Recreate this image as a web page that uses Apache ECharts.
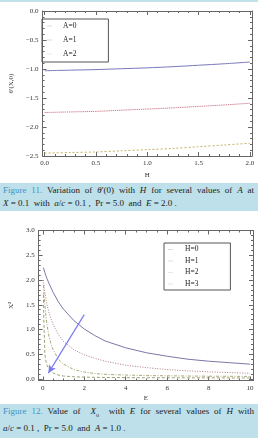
<!DOCTYPE html>
<html>
<head>
<meta charset="utf-8">
<script src="https://cdn.jsdelivr.net/npm/echarts@6.0.0/dist/echarts.min.js"></script>
<style>
  body { margin: 0; width: 258px; height: 438px; overflow: hidden; background: #fff; position: relative;
         font-family: "Liberation Serif", "DejaVu Serif", serif; }
  #main { position: absolute; left: 0; top: 0; width: 258px; height: 438px; }
  .strip { position: absolute; left: 0; top: 0; width: 258px; height: 2px; background: #c3e1e8; }
  .cap { position: absolute; left: 0; width: 258px; background: #bde0ea; color: #222;
         font-size: 9px; box-sizing: border-box; padding: 0 4px 0 3px; }
  .cap .l { position: absolute; left: 3px; right: 4px; white-space: nowrap; }
  .cap .j { text-align: justify; text-align-last: justify; white-space: normal; }
  .cap b { color: #3f93c6; font-weight: normal; }
  .cap sub { font-size: 6px; }
</style>
</head>
<body>
<div id="main"></div>
<div class="strip"></div>
<div class="cap" style="top:183px;height:28px;">
  <div class="l j" style="top:2px;"><b>Figure 11.</b> Variation of <i>θ</i>′(0) with <i>H</i> for several values of <i>A</i> at</div>
  <div class="l" style="top:15px;"><i>X</i> = 0.1&nbsp; with&nbsp; <i>a</i>/<i>c</i> = 0.1 ,&nbsp; Pr = 5.0&nbsp; and&nbsp; <i>E</i> = 2.0 .</div>
</div>
<div class="cap" style="top:404px;height:34px;">
  <div class="l j" style="top:2px;"><b>Figure 12.</b> Value of&nbsp; <i>X</i><sub>o</sub>&nbsp; with <i>E</i> for several values of <i>H</i> with</div>
  <div class="l" style="top:19px;"><i>a</i>/<i>c</i> = 0.1 ,&nbsp; Pr = 5.0&nbsp; and&nbsp; <i>A</i> = 1.0 .</div>
</div>
<script>
// figure 11: theta'(0) against H
var hVals = [0, 0.25, 0.5, 0.75, 1, 1.25, 1.5, 1.75, 2];
var thetaA0 = [-1.03, -1.02, -1.01, -0.995, -0.98, -0.96, -0.935, -0.91, -0.88];
var thetaA1 = [-1.75, -1.74, -1.73, -1.71, -1.69, -1.67, -1.645, -1.62, -1.59];
var thetaA2 = [-2.45, -2.44, -2.43, -2.41, -2.39, -2.37, -2.34, -2.31, -2.28];
var hTicks = [0, 0.5, 1, 1.5, 2];
var thetaTicks = [-2.5, -2, -1.5, -1, -0.5, 0];

// figure 12: X^2 against E
var eVals = [0.03, 0.05, 0.1, 0.15, 0.2, 0.3, 0.4, 0.5, 0.75, 1, 1.5, 2, 2.5, 3, 4, 5, 6, 7, 8, 9, 10];
var xH0 = [2.25, 2.22, 2.15, 2.09, 2.03, 1.93, 1.84, 1.75, 1.56, 1.41, 1.18, 1.01, 0.88, 0.77, 0.63, 0.53, 0.46, 0.40, 0.36, 0.33, 0.30];
var xH1 = [2.0, 1.92, 1.75, 1.62, 1.51, 1.34, 1.21, 1.10, 0.90, 0.76, 0.59, 0.49, 0.42, 0.36, 0.28, 0.23, 0.19, 0.165, 0.145, 0.13, 0.115];
var xH2 = [1.9, 1.75, 1.5, 1.28, 1.1, 0.86, 0.70, 0.59, 0.40, 0.30, 0.19, 0.14, 0.11, 0.095, 0.08, 0.07, 0.065, 0.06, 0.057, 0.055, 0.053];
var xH3 = [1.7, 1.2, 0.5, 0.36, 0.28, 0.2, 0.15, 0.12, 0.08, 0.06, 0.045, 0.038, 0.034, 0.031, 0.028, 0.026, 0.025, 0.024, 0.023, 0.022, 0.021];
var eTicks = [0, 2, 4, 6, 8, 10];
var xTicks = [0, 0.5, 1, 1.5, 2, 2.5, 3];
var arrowFrom = [2.0, 1.3];
var arrowTo = [0.27, 0.12];

var serif = '"Liberation Serif", "DejaVu Serif", serif';
var frameColor = '#666';
// thin horizontal stroke centred in the legend item box
var lineIcon = 'path://M0,0h0.01v0.01h-0.01z M0,4.5h10v1h-10z M0,9.99h0.01v0.01h-0.01z';

function pairs(xs, ys) {
    return xs.map(function (x, i) { return [x, ys[i]]; });
}

function minorOf(ticks, n) {
    var out = [];
    for (var i = 0; i < ticks.length - 1; i++) {
        var s = (ticks[i + 1] - ticks[i]) / n;
        for (var k = 1; k < n; k++) out.push(+(ticks[i] + s * k).toFixed(4));
    }
    return out;
}

function fmt1(v) {
    return v.toFixed(1).replace('-', '\u2212');
}

// major + minor tick axes for one side of a frame
function sideAxes(grid, pos, min, max, ticks, minorN, labels, extra) {
    var major = {
        type: 'value', gridIndex: grid, position: pos, min: min, max: max,
        axisLine: { show: true, onZero: false, lineStyle: { color: frameColor, width: 1 } },
        axisTick: { show: true, inside: true, length: 4, customValues: ticks, lineStyle: { color: frameColor } },
        axisLabel: { show: !!labels, customValues: ticks, formatter: labels || undefined,
                     fontFamily: serif, fontSize: 7, color: '#333', margin: 4 },
        splitLine: { show: false }
    };
    if (extra) for (var k in extra) major[k] = extra[k];
    var minor = {
        type: 'value', gridIndex: grid, position: pos, min: min, max: max,
        axisLine: { show: false, onZero: false },
        axisTick: { show: true, inside: true, length: 2, customValues: minorOf(ticks, minorN), lineStyle: { color: frameColor } },
        axisLabel: { show: false },
        splitLine: { show: false }
    };
    return [major, minor];
}

var nameStyle = { fontFamily: serif, fontSize: 7, color: '#333' };

var xAxes = [].concat(
    sideAxes(0, 'bottom', -0.02, 2.02, hTicks, 5, fmt1,
        { name: 'H', nameLocation: 'middle', nameGap: 16, nameTextStyle: nameStyle }),
    sideAxes(0, 'top', -0.02, 2.02, hTicks, 5, null),
    sideAxes(1, 'bottom', -0.2, 10.14, eTicks, 4, function (v) { return String(v); },
        { name: 'E', nameLocation: 'middle', nameGap: 14, nameTextStyle: nameStyle }),
    sideAxes(1, 'top', -0.2, 10.14, eTicks, 4, null)
);
var yAxes = [].concat(
    sideAxes(0, 'left', -2.5, 0, thetaTicks, 5, fmt1,
        { name: 'θ′(X,0)', nameLocation: 'middle', nameGap: 18, nameRotate: 90, nameTextStyle: nameStyle }),
    sideAxes(0, 'right', -2.5, 0, thetaTicks, 5, null),
    sideAxes(1, 'left', -0.03, 3.0, xTicks, 5, fmt1,
        { name: 'X²', nameLocation: 'middle', nameGap: 15, nameRotate: 90, nameTextStyle: nameStyle }),
    sideAxes(1, 'right', -0.03, 3.0, xTicks, 5, null)
);

function curve(name, xi, xs, ys, color, type, smooth) {
    return {
        name: name, type: 'line', xAxisIndex: xi, yAxisIndex: xi,
        data: pairs(xs, ys), showSymbol: false, symbol: 'none',
        smooth: smooth,
        lineStyle: { color: color, width: 1, type: type },
        itemStyle: { color: color }
    };
}

var legendBase = {
    orient: 'vertical', borderColor: '#555', borderWidth: 1, borderRadius: 0,
    itemWidth: 5, selectedMode: false, icon: lineIcon,
    itemStyle: { opacity: 0.55 },
    textStyle: { fontFamily: serif, fontSize: 7.5, color: '#222', padding: [0, 0, 0, 6] }
};

var myChart = echarts.init(document.getElementById('main'), null, { renderer: 'canvas' });

myChart.setOption({
    animation: false,
    backgroundColor: '#fff',
    grid: [
        { left: 30, top: 11, width: 222, height: 145 },
        { left: 26, top: 230.5, width: 227, height: 150 }
    ],
    legend: [
        Object.assign({}, legendBase, {
            data: ['A=0', 'A=1', 'A=2'], left: 42, top: 19,
            padding: [3, 32, 4, 5], itemGap: 6, itemHeight: 8
        }),
        Object.assign({}, legendBase, {
            data: ['H=0', 'H=1', 'H=2', 'H=3'], left: 164, top: 243,
            padding: [2.5, 32, 2, 4], itemGap: 3.5, itemHeight: 7,
            textStyle: { fontFamily: serif, fontSize: 7.5, color: '#222', padding: [0, 0, 0, 7] }
        })
    ],
    xAxis: xAxes,
    yAxis: yAxes,
    series: [
        curve('A=0', 0, hVals, thetaA0, '#7a78bc', 'solid', 0.3),
        curve('A=1', 0, hVals, thetaA1, '#c45c70', [1, 1], 0.3),
        curve('A=2', 0, hVals, thetaA2, '#c9b25e', [2, 2], 0.3),
        curve('H=0', 4, eVals, xH0, '#7a78a8', 'solid', false),
        curve('H=1', 4, eVals, xH1, '#b07c84', [1, 1.5], false),
        curve('H=2', 4, eVals, xH2, '#aaa87a', [3, 1.5, 1, 1.5], false),
        curve('H=3', 4, eVals, xH3, '#a0a078', [3, 2], false),
        {
            name: 'arrow', type: 'line', xAxisIndex: 4, yAxisIndex: 4, data: [],
            markLine: {
                silent: true, animation: false,
                symbol: ['none', 'arrow'], symbolSize: [6, 8],
                label: { show: false },
                itemStyle: { color: '#2525dd' },
                lineStyle: { color: '#7b7bf2', width: 1.2, type: 'solid' },
                data: [[
                    { coord: arrowFrom },
                    { coord: arrowTo, itemStyle: { color: '#2525dd' } }
                ]]
            }
        }
    ]
});

window.addEventListener('resize', function () {
    myChart.resize();
});
</script>
</body>
</html>
